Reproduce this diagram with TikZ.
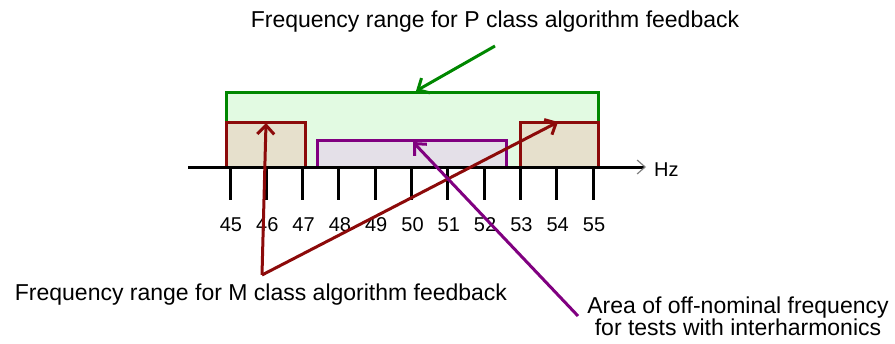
\documentclass[tikz,border=0pt]{standalone}
\usepackage{fontspec}
\setmainfont{Liberation Sans}
\usetikzlibrary{positioning, arrows.meta}

\definecolor{pgreen}{RGB}{0,135,0}
\definecolor{pfill}{RGB}{226,250,226}
\definecolor{mred}{RGB}{140,10,10}
\definecolor{mfill}{RGB}{230,224,204}
\definecolor{apurple}{RGB}{128,0,128}
\definecolor{afill}{RGB}{228,224,232}

\begin{document}
\begin{tikzpicture}[
    x=1pt, y=-1pt,
    band/.style={draw, line width=3pt, inner sep=0pt},
    txt/.style={font=\fontsize{20}{23}\selectfont, inner sep=1pt},
    bigtxt/.style={font=\fontsize{23}{21}\selectfont, inner sep=1pt},
    tick/.style={line width=3pt},
    callout/.style={line width=3pt, -{Straight Barb[length=9pt, width=17pt, line width=3pt]}}
]
\useasboundingbox (0,0) rectangle (895,343);

% ================= Frequency bands =================

% P class range
\node[band, draw=pgreen, fill=pfill, minimum width=372pt, minimum height=75pt] (pband) at (412,129.5) {};

% M class ranges
\node[band, draw=mred, fill=mfill, minimum width=79pt, minimum height=45pt] (mleft) at (265.5,144.5) {};
\node[band, draw=mred, fill=mfill, minimum width=78pt, minimum height=45pt] (mright) at (559,144.5) {};

% Off-nominal area
\node[band, draw=apurple, fill=afill, minimum width=189pt, minimum height=27pt] (area) at (411.5,153.5) {};

% ================= Axis =================

\coordinate (axstart) at (188,167);
\coordinate (axend) at (646,167);
\draw[line width=3pt, -{Straight Barb[color=gray, length=8pt, width=14pt, line width=1.2pt]}] (axstart) -- (axend);
\node[txt, anchor=west] (hz) at (653,170) {Hz};

\foreach \f [count=\i from 0] in {45,...,55} {
    \draw[tick] (230+36.3*\i,167) -- (230+36.3*\i,200);
    \node[txt] (lab\f) at (231+36.3*\i,225) {\f};
}

% ================= Labels =================

\node[bigtxt] (ptxt) at (495,22) {Frequency range for P class algorithm feedback};
\node[bigtxt] (mtxt) at (261,295) {Frequency range for M class algorithm feedback};
\node[bigtxt, align=center] (atxt) at (738,316) {Area of off-nominal frequency\\for tests with interharmonics};

% ================= Edges =================

% P class callout
\coordinate (ptail) at (495,46);
\coordinate (ptip) at (416,91);
\draw[callout, draw=pgreen] (ptail) -- (ptip);

% M class callouts
\coordinate (mapex) at (262,275);
\coordinate (mtipl) at (266,123);
\coordinate (mtipr) at (558,122);
\draw[callout, draw=mred] (mapex) -- (mtipl);
\draw[callout, draw=mred] (mapex) -- (mtipr);

% Off-nominal callout
\coordinate (atail) at (578,316);
\coordinate (atip) at (413,142);
\draw[callout, draw=apurple] (atail) -- (atip);

\end{tikzpicture}
\end{document}
